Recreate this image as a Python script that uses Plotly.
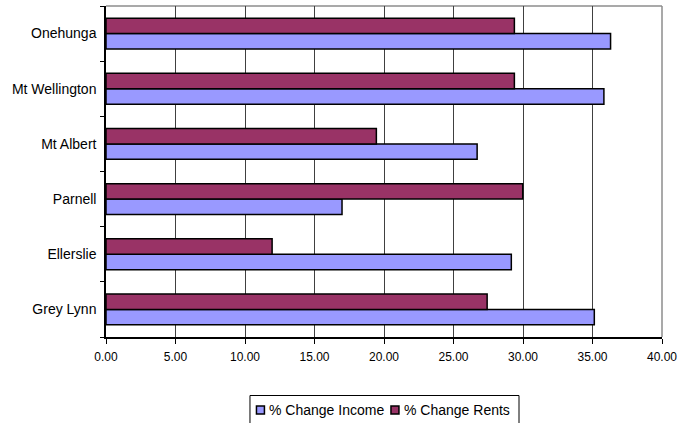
import plotly.graph_objects as go

# Suburbs, listed bottom to top on the category axis
suburbs = ["Grey Lynn", "Ellerslie", "Parnell", "Mt Albert", "Mt Wellington", "Onehunga"]
income_change = [35.13, 29.16, 16.98, 26.70, 35.82, 36.30]
rent_change = [27.42, 11.95, 29.98, 19.45, 29.38, 29.38]
x_ticks = [0, 5, 10, 15, 20, 25, 30, 35, 40]

series_names = ["% Change Income", "% Change Rents"]
series_colors = ["#9999FF", "#993366"]

FONT = "Liberation Sans, Arial, sans-serif"
W, H = 683, 423
M_L, M_R, M_T, M_B = 106, 19, 6, 86
PLOT_W = W - M_L - M_R
PLOT_H = H - M_T - M_B


def px_x(x):
    """Pixel column -> paper x."""
    return (x - M_L) / PLOT_W


def px_y(y):
    """Pixel row -> paper y."""
    return (H - M_B - y) / PLOT_H


fig = go.Figure()
for name, color, values in zip(series_names, series_colors, [income_change, rent_change]):
    fig.add_trace(go.Bar(
        y=suburbs, x=values, orientation="h", name=name, showlegend=False,
        marker=dict(color=color, line=dict(color="#000000", width=1.5)),
    ))

shapes = [
    # grey frame on the top and right of the plot area
    dict(type="line", xref="paper", yref="paper", x0=0, x1=1, y0=1, y1=1,
         line=dict(color="#8c8c8c", width=1.5), layer="below"),
    dict(type="line", xref="paper", yref="paper", x0=1, x1=1, y0=0, y1=1,
         line=dict(color="#8c8c8c", width=1.5), layer="below"),
    # legend box
    dict(type="rect", xref="paper", yref="paper",
         x0=px_x(250.5), x1=px_x(520.5), y0=px_y(425), y1=px_y(395.5),
         line=dict(color="#000000", width=1), fillcolor="white"),
]
annotations = []

# legend entries: small square swatch followed by the series name
legend_entries = [(257, 268), (392, 403)]
for (sx, tx), name, color in zip(legend_entries, series_names, series_colors):
    shapes.append(dict(type="rect", xref="paper", yref="paper",
                       x0=px_x(sx), x1=px_x(sx + 8), y0=px_y(414), y1=px_y(406),
                       line=dict(color="#000000", width=1.5), fillcolor=color))
    annotations.append(dict(xref="paper", yref="paper", x=px_x(tx), y=px_y(410),
                            xanchor="left", yanchor="middle", showarrow=False,
                            text=name, font=dict(family=FONT, size=14, color="#000000")))

fig.update_layout(
    width=W, height=H,
    margin=dict(l=M_L, r=M_R, t=M_T, b=M_B),
    paper_bgcolor="white", plot_bgcolor="white",
    barmode="group", bargap=0.44, bargroupgap=0,
    font=dict(family=FONT, size=12, color="#000000"),
    showlegend=False,
    shapes=shapes,
    annotations=annotations,
    xaxis=dict(
        range=[0, 40], tickvals=x_ticks, tickformat=".2f",
        showgrid=True, gridcolor="#404040", gridwidth=1,
        showline=True, linecolor="#000000", linewidth=1.5,
        ticks="outside", ticklen=5, tickcolor="#000000",
        zeroline=False, fixedrange=True, ticklabelstandoff=3,
        tickfont=dict(family=FONT, size=12),
    ),
    yaxis=dict(
        categoryorder="array", categoryarray=suburbs,
        showline=True, linecolor="#000000", linewidth=1.5,
        ticks="outside", ticklen=4, tickcolor="#000000", tickson="boundaries",
        showgrid=False, ticklabelstandoff=5,
        tickfont=dict(family=FONT, size=14),
    ),
)

fig.write_html("out.html")
